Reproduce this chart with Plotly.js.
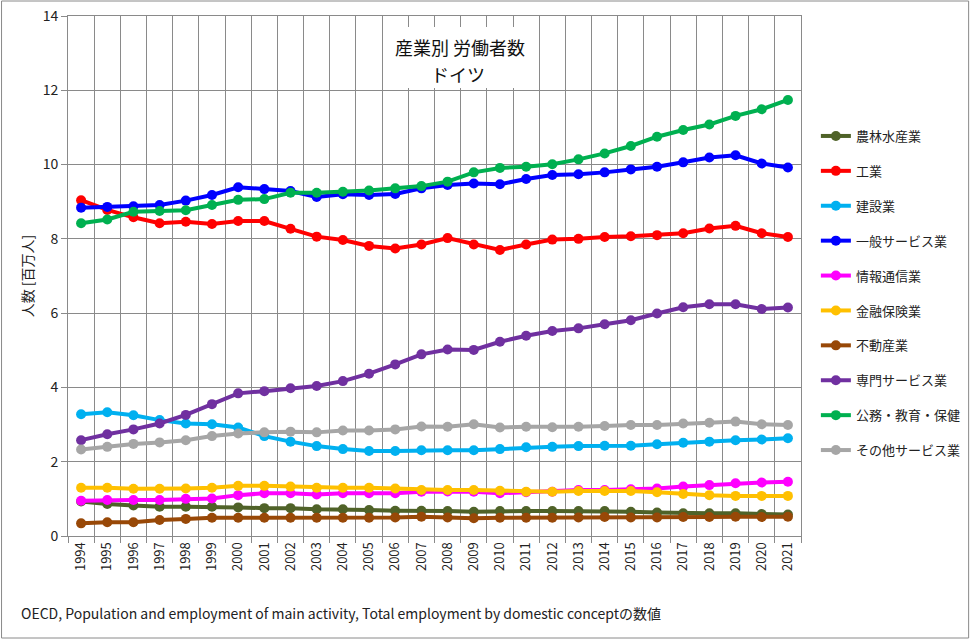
<!DOCTYPE html>
<html>
<head>
<meta charset="utf-8">
<script src="https://cdn.plot.ly/plotly-3.0.1.min.js"></script>
<style>html,body{margin:0;padding:0;background:#fff;}#chart{width:978px;height:640px;}</style>
</head>
<body>
<div id="chart"></div>
<script>
const years = ["1994","1995","1996","1997","1998","1999","2000","2001","2002","2003","2004","2005","2006","2007","2008","2009","2010","2011","2012","2013","2014","2015","2016","2017","2018","2019","2020","2021"];

const agriculture = [0.93,0.86,0.82,0.79,0.79,0.79,0.77,0.75,0.75,0.72,0.72,0.70,0.68,0.68,0.67,0.65,0.67,0.67,0.67,0.67,0.67,0.65,0.63,0.61,0.61,0.61,0.59,0.58];
const industry = [9.04,8.78,8.58,8.42,8.46,8.40,8.48,8.48,8.27,8.06,7.97,7.81,7.74,7.85,8.02,7.85,7.70,7.85,7.98,8.00,8.05,8.07,8.10,8.15,8.28,8.35,8.15,8.05];
const construction = [3.28,3.33,3.25,3.12,3.03,3.01,2.92,2.69,2.54,2.42,2.34,2.29,2.29,2.31,2.31,2.31,2.34,2.39,2.40,2.42,2.43,2.43,2.47,2.51,2.54,2.58,2.60,2.63];
const generalServices = [8.84,8.86,8.88,8.91,9.03,9.18,9.39,9.34,9.29,9.13,9.20,9.18,9.21,9.36,9.45,9.49,9.47,9.61,9.72,9.74,9.79,9.87,9.94,10.06,10.19,10.25,10.03,9.92];
const infoComm = [0.95,0.97,0.97,0.97,1.00,1.01,1.10,1.15,1.15,1.12,1.15,1.15,1.15,1.19,1.20,1.19,1.15,1.18,1.19,1.24,1.24,1.26,1.28,1.33,1.37,1.42,1.44,1.46];
const finance = [1.30,1.30,1.27,1.27,1.28,1.30,1.35,1.35,1.33,1.30,1.30,1.30,1.28,1.24,1.24,1.24,1.22,1.19,1.19,1.21,1.21,1.21,1.18,1.13,1.10,1.08,1.08,1.08];
const realEstate = [0.34,0.37,0.37,0.43,0.46,0.49,0.49,0.49,0.49,0.49,0.49,0.49,0.50,0.52,0.50,0.48,0.49,0.49,0.49,0.50,0.51,0.50,0.50,0.51,0.51,0.52,0.51,0.52];
const professional = [2.58,2.74,2.87,3.03,3.26,3.55,3.84,3.90,3.98,4.04,4.17,4.37,4.62,4.89,5.02,5.01,5.23,5.39,5.52,5.59,5.70,5.81,5.99,6.16,6.24,6.24,6.11,6.15];
const publicEduHealth = [8.42,8.52,8.73,8.75,8.77,8.91,9.05,9.07,9.24,9.24,9.27,9.30,9.36,9.42,9.54,9.79,9.91,9.94,10.01,10.14,10.30,10.50,10.75,10.93,11.08,11.31,11.49,11.74];
const otherServices = [2.33,2.40,2.48,2.52,2.58,2.69,2.76,2.79,2.81,2.79,2.84,2.84,2.87,2.95,2.94,3.01,2.92,2.94,2.93,2.94,2.96,2.99,2.99,3.03,3.05,3.08,3.01,2.99];

const seriesNames = ["農林水産業","工業","建設業","一般サービス業","情報通信業","金融保険業","不動産業","専門サービス業","公務・教育・保健","その他サービス業"];
const seriesValues = [agriculture,industry,construction,generalServices,infoComm,finance,realEstate,professional,publicEduHealth,otherServices];
const seriesColors = ["#4f6228","#ff0000","#00b0f0","#0000ff","#ff00ff","#ffc000","#984807","#7030a0","#00b050","#a6a6a6"];

const titleLine1 = "産業別 労働者数";
const titleLine2 = "ドイツ";
const caption = "OECD, Population and employment of main activity, Total employment by domestic conceptの数値";
const yTitle = "人数 [百万人]";

const FONT = "'Noto Sans CJK JP', 'Noto Sans', sans-serif";

const traces = seriesNames.map((n, i) => ({
  type: "scatter",
  mode: "lines+markers",
  name: n,
  legendgroup: "g" + i,
  x: years,
  y: seriesValues[i],
  line: {color: seriesColors[i], width: 4},
  marker: {color: seriesColors[i], size: 10}
}));

const L = 68, R = 171, T = 16, B = 104, W = 978, H = 640;
const pw = W - L - R, ph = H - T - B;
const px = v => (v - L) / pw;
const py = v => (H - B - v) / ph;

const layout = {
  width: W, height: H,
  margin: {l: L, r: R, t: T, b: B, pad: 0},
  paper_bgcolor: "#ffffff",
  plot_bgcolor: "#ffffff",
  font: {family: FONT, color: "#222", size: 13},
  showlegend: true,
  legend: {
    x: px(822), xanchor: "left",
    y: py(293), yanchor: "middle",
    font: {family: FONT, size: 13, color: "#222"},
    tracegroupgap: 15,
    bgcolor: "rgba(0,0,0,0)",
    itemwidth: 30
  },
  xaxis: {
    type: "category",
    range: [-0.5, years.length - 0.5],
    tickson: "boundaries",
    tickangle: -90,
    showgrid: true,
    gridcolor: "#8a8a8a",
    gridwidth: 1,
    showline: true,
    linecolor: "#8a8a8a",
    linewidth: 1,
    mirror: true,
    ticks: "outside",
    ticklen: 6,
    tickcolor: "#8a8a8a",
    tickfont: {family: FONT, size: 13, color: "#222"},
    zeroline: false
  },
  yaxis: {
    range: [0, 14],
    dtick: 2,
    showgrid: true,
    gridcolor: "#8a8a8a",
    gridwidth: 1,
    showline: true,
    linecolor: "#8a8a8a",
    linewidth: 1,
    mirror: true,
    ticks: "outside",
    ticklen: 6,
    tickcolor: "#8a8a8a",
    tickfont: {family: FONT, size: 14, color: "#222"},
    zeroline: false,
    title: {text: yTitle, font: {family: FONT, size: 14, color: "#222"}, standoff: 5}
  },
  annotations: [
    {
      xref: "paper", yref: "paper",
      x: px(463), y: py(47), xanchor: "center", yanchor: "middle",
      text: titleLine1,
      showarrow: false,
      borderpad: 0,
      font: {family: FONT, size: 18, color: "#111"}
    },
    {
      xref: "paper", yref: "paper",
      x: px(461), y: py(74), xanchor: "center", yanchor: "middle",
      text: titleLine2,
      showarrow: false,
      borderpad: 0,
      font: {family: FONT, size: 18, color: "#111"}
    },
    {
      xref: "paper", yref: "paper",
      x: px(19), y: py(613), xanchor: "left", yanchor: "middle",
      text: caption,
      showarrow: false,
      font: {family: FONT, size: 14, color: "#222"}
    }
  ],
  shapes: [
    {
      type: "rect", xref: "paper", yref: "paper", layer: "above",
      x0: px(391), x1: px(536), y0: py(88), y1: py(27),
      line: {width: 0},
      fillcolor: "#ffffff"
    },
    {
      type: "rect", xref: "paper", yref: "paper",
      x0: px(1), x1: px(976), y0: py(638), y1: py(1),
      line: {color: "#8a8a8a", width: 1},
      fillcolor: "rgba(0,0,0,0)"
    }
  ]
};

Plotly.newPlot("chart", traces, layout, {displayModeBar: false, staticPlot: true});
</script>
</body>
</html>
